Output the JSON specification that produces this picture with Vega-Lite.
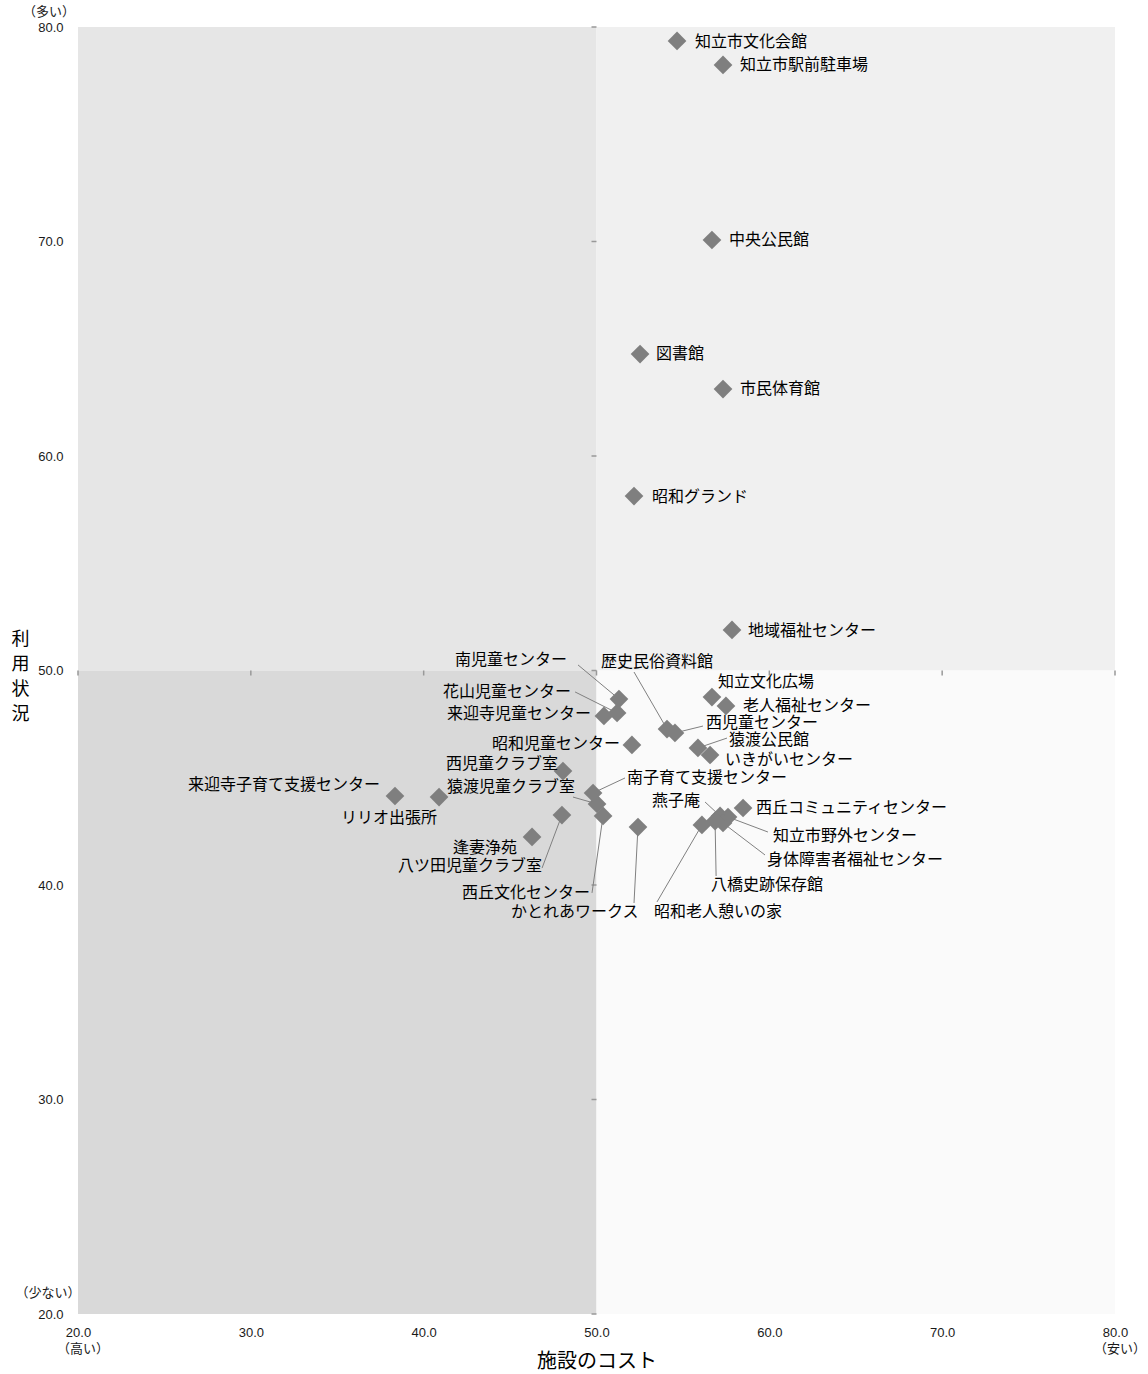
{
  "$schema": "https://vega.github.io/schema/vega-lite/v6.json",
  "width": 1037,
  "height": 1287,
  "autosize": {"type": "none"},
  "padding": {"left": 78, "top": 27, "right": 33, "bottom": 60},
  "background": "white",
  "config": {"view": {"stroke": null}, "font": "Noto Sans CJK JP"},
  "datasets": {
    "quads": [
      {"q": "TL", "x1": 20, "x2": 50, "y1": 50, "y2": 80},
      {"q": "TR", "x1": 50, "x2": 80, "y1": 50, "y2": 80},
      {"q": "BL", "x1": 20, "x2": 50, "y1": 20, "y2": 50},
      {"q": "BR", "x1": 50, "x2": 80, "y1": 20, "y2": 50}
    ],
    "ticks": [{"v": 20}, {"v": 30}, {"v": 40}, {"v": 50}, {"v": 60}, {"v": 70}, {"v": 80}],
    "pts": [
      {"n": "知立市文化会館", "x": 54.66, "y": 79.35, "lx": 55.70, "ly": 79.30},
      {"n": "知立市駅前駐車場", "x": 57.32, "y": 78.23, "lx": 58.30, "ly": 78.23},
      {"n": "中央公民館", "x": 56.68, "y": 70.07, "lx": 57.67, "ly": 70.07},
      {"n": "図書館", "x": 52.52, "y": 64.75, "lx": 53.44, "ly": 64.75},
      {"n": "市民体育館", "x": 57.32, "y": 63.12, "lx": 58.30, "ly": 63.12},
      {"n": "昭和グランド", "x": 52.17, "y": 58.13, "lx": 53.21, "ly": 58.09},
      {"n": "地域福祉センター", "x": 57.84, "y": 51.89, "lx": 58.77, "ly": 51.84},
      {"n": "南児童センター", "x": 51.30, "y": 48.67, "lx": 41.81, "ly": 50.49, "ex": 48.93, "ey": 50.26},
      {"n": "花山児童センター", "x": 51.19, "y": 48.02, "lx": 41.12, "ly": 49.00, "ex": 48.76, "ey": 49.00},
      {"n": "来迎寺児童センター", "x": 50.43, "y": 47.88, "lx": 41.35, "ly": 47.97},
      {"n": "歴史民俗資料館", "x": 54.08, "y": 47.27, "lx": 50.26, "ly": 50.40, "ex": 52.17, "ey": 49.93},
      {"n": "知立文化広場", "x": 56.68, "y": 48.76, "lx": 57.03, "ly": 49.46},
      {"n": "老人福祉センター", "x": 57.49, "y": 48.35, "lx": 58.48, "ly": 48.35},
      {"n": "西児童センター", "x": 54.54, "y": 47.09, "lx": 56.34, "ly": 47.55, "ex": 56.16, "ey": 47.41},
      {"n": "猿渡公民館", "x": 55.87, "y": 46.39, "lx": 57.67, "ly": 46.76, "ex": 57.55, "ey": 46.85},
      {"n": "いきがいセンター", "x": 56.57, "y": 46.06, "lx": 57.44, "ly": 45.83},
      {"n": "昭和児童センター", "x": 52.05, "y": 46.53, "lx": 43.95, "ly": 46.57},
      {"n": "西児童クラブ室", "x": 48.06, "y": 45.31, "lx": 41.29, "ly": 45.64},
      {"n": "来迎寺子育て支援センター", "x": 38.34, "y": 44.15, "lx": 26.36, "ly": 44.66},
      {"n": "リリオ出張所", "x": 40.89, "y": 44.10, "lx": 35.22, "ly": 43.12},
      {"n": "猿渡児童クラブ室", "x": 50.03, "y": 43.78, "lx": 41.35, "ly": 44.57, "ex": 48.64, "ey": 44.10},
      {"n": "南子育て支援センター", "x": 49.80, "y": 44.29, "lx": 51.77, "ly": 44.99, "ex": 51.65, "ey": 44.99},
      {"n": "逢妻浄苑", "x": 46.27, "y": 42.24, "lx": 41.70, "ly": 41.72},
      {"n": "八ツ田児童クラブ室", "x": 48.00, "y": 43.26, "lx": 38.52, "ly": 40.89, "ex": 46.85, "ey": 40.79},
      {"n": "西丘文化センター", "x": 50.38, "y": 43.22, "lx": 42.22, "ly": 39.63, "ex": 49.74, "ey": 39.63},
      {"n": "かとれあワークス", "x": 52.40, "y": 42.70, "lx": 45.05, "ly": 38.74, "ex": 52.17, "ey": 39.16},
      {"n": "燕子庵", "x": 57.15, "y": 43.22, "lx": 53.21, "ly": 43.92, "ex": 56.28, "ey": 43.87},
      {"n": "西丘コミュニティセンター", "x": 58.48, "y": 43.59, "lx": 59.23, "ly": 43.59},
      {"n": "知立市野外センター", "x": 57.61, "y": 43.17, "lx": 60.21, "ly": 42.28, "ex": 59.92, "ey": 42.47},
      {"n": "身体障害者福祉センター", "x": 57.32, "y": 42.89, "lx": 59.87, "ly": 41.17, "ex": 59.75, "ey": 41.40},
      {"n": "八橋史跡保存館", "x": 56.86, "y": 42.98, "lx": 56.63, "ly": 40.00, "ex": 56.92, "ey": 40.42},
      {"n": "昭和老人憩いの家", "x": 56.10, "y": 42.80, "lx": 53.33, "ly": 38.74, "ex": 53.50, "ey": 39.21}
    ],
    "notes": [
      {"k": "ytop", "x": 20, "y": 80, "t": "（多い）"},
      {"k": "ylow", "x": 20, "y": 20, "t": "（少ない）"},
      {"k": "x", "x": 20, "y": 20, "t": "（高い）"},
      {"k": "x", "x": 80, "y": 20, "t": "（安い）"}
    ]
  },
  "layer": [
    {
      "data": {"name": "quads"},
      "mark": {"type": "rect"},
      "encoding": {
        "x": {
          "field": "x1", "type": "quantitative",
          "scale": {"domain": [20, 80], "nice": false, "zero": false},
          "axis": {
            "title": "施設のコスト", "values": [20, 30, 40, 50, 60, 70, 80], "format": ".1f",
            "domain": false, "ticks": false, "tickSize": 0, "grid": false,
            "labelPadding": 12, "labelFont": "Liberation Sans", "labelFontSize": 13, "labelColor": "#1a1a1a",
            "labelFlush": false, "labelOverlap": false, "labelBound": false,
            "titleFont": "Noto Sans CJK JP", "titleFontSize": 20, "titleFontWeight": "normal", "titleColor": "#000000",
            "titleBaseline": "top", "titleY": 37
          }
        },
        "x2": {"field": "x2"},
        "y": {
          "field": "y1", "type": "quantitative",
          "scale": {"domain": [20, 80], "nice": false, "zero": false},
          "axis": {
            "title": ["利", "用", "状", "況"], "values": [20, 30, 40, 50, 60, 70, 80], "format": ".1f",
            "domain": false, "ticks": false, "tickSize": 0, "grid": false,
            "labelPadding": 15, "labelFont": "Liberation Sans", "labelFontSize": 13, "labelColor": "#1a1a1a",
            "labelFlush": false, "labelOverlap": false, "labelBound": false,
            "titleFont": "Noto Sans CJK JP", "titleFontSize": 18, "titleFontWeight": "normal", "titleColor": "#000000",
            "titleAngle": 0, "titleAlign": "center", "titleBaseline": "top", "titleX": -58, "titleY": 603, "titleLineHeight": 25
          }
        },
        "y2": {"field": "y2"},
        "color": {
          "field": "q", "type": "nominal",
          "scale": {"domain": ["TL", "TR", "BL", "BR"], "range": ["#e6e6e6", "#f0f0f0", "#d9d9d9", "#fafafa"]},
          "legend": null
        }
      }
    },
    {
      "mark": {"type": "rule", "color": "#999999", "strokeWidth": 1.5},
      "encoding": {"x": {"datum": 50, "type": "quantitative"}}
    },
    {
      "mark": {"type": "rule", "color": "#999999", "strokeWidth": 1.5},
      "encoding": {"y": {"datum": 50, "type": "quantitative"}}
    },
    {
      "data": {"name": "ticks"},
      "mark": {"type": "rule", "color": "#999999", "strokeWidth": 1.5, "x2Offset": -5},
      "encoding": {
        "x": {"datum": 50, "type": "quantitative"},
        "x2": {"datum": 50},
        "y": {"field": "v", "type": "quantitative"}
      }
    },
    {
      "data": {"name": "ticks"},
      "mark": {"type": "rule", "color": "#999999", "strokeWidth": 1.5, "y2Offset": 5},
      "encoding": {
        "x": {"field": "v", "type": "quantitative"},
        "y": {"datum": 50, "type": "quantitative"},
        "y2": {"datum": 50}
      }
    },
    {
      "data": {"name": "pts"},
      "transform": [{"filter": "isValid(datum.ex)"}],
      "mark": {"type": "rule", "color": "#808080", "strokeWidth": 1},
      "encoding": {
        "x": {"field": "x", "type": "quantitative"},
        "y": {"field": "y", "type": "quantitative"},
        "x2": {"field": "ex"},
        "y2": {"field": "ey"}
      }
    },
    {
      "data": {"name": "pts"},
      "mark": {"type": "point", "shape": "diamond", "filled": true, "color": "#7f7f7f", "size": 350, "opacity": 1},
      "encoding": {
        "x": {"field": "x", "type": "quantitative"},
        "y": {"field": "y", "type": "quantitative"}
      }
    },
    {
      "data": {"name": "pts"},
      "mark": {"type": "text", "align": "left", "baseline": "middle", "fontSize": 16, "font": "Noto Sans CJK JP", "color": "#000000"},
      "encoding": {
        "x": {"field": "lx", "type": "quantitative"},
        "y": {"field": "ly", "type": "quantitative"},
        "text": {"field": "n"}
      }
    },
    {
      "data": {"name": "notes"},
      "transform": [{"filter": "datum.k == 'ytop'"}],
      "mark": {"type": "text", "align": "center", "baseline": "middle", "fontSize": 13, "font": "Noto Sans CJK JP", "color": "#1a1a1a", "dx": -29, "dy": -15},
      "encoding": {
        "x": {"field": "x", "type": "quantitative"},
        "y": {"field": "y", "type": "quantitative"},
        "text": {"field": "t"}
      }
    },
    {
      "data": {"name": "notes"},
      "transform": [{"filter": "datum.k == 'ylow'"}],
      "mark": {"type": "text", "align": "center", "baseline": "middle", "fontSize": 13, "font": "Noto Sans CJK JP", "color": "#1a1a1a", "dx": -30, "dy": -21},
      "encoding": {
        "x": {"field": "x", "type": "quantitative"},
        "y": {"field": "y", "type": "quantitative"},
        "text": {"field": "t"}
      }
    },
    {
      "data": {"name": "notes"},
      "transform": [{"filter": "datum.k == 'x'"}],
      "mark": {"type": "text", "align": "center", "baseline": "middle", "fontSize": 13, "font": "Noto Sans CJK JP", "color": "#1a1a1a", "dx": 5, "dy": 35},
      "encoding": {
        "x": {"field": "x", "type": "quantitative"},
        "y": {"field": "y", "type": "quantitative"},
        "text": {"field": "t"}
      }
    }
  ]
}
